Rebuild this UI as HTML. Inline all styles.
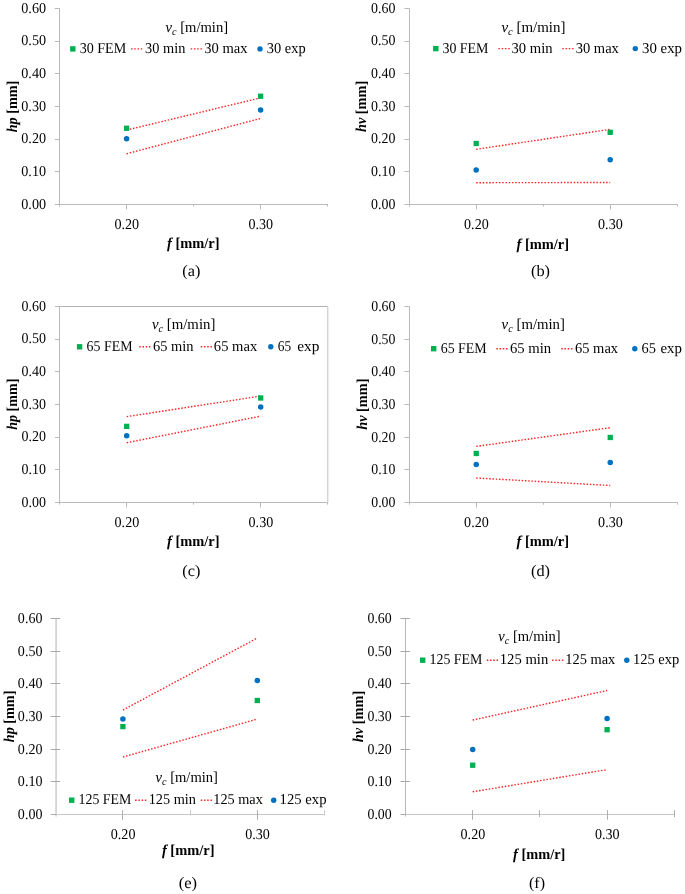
<!DOCTYPE html>
<html><head><meta charset="utf-8"><style>
html,body{margin:0;padding:0;background:#fff;}
svg{display:block;}
#w{will-change:transform;width:685px;height:894px;}
text{font-family:"Liberation Serif",serif;text-rendering:geometricPrecision;}
</style></head><body><div id="w">
<svg width="685" height="894" viewBox="0 0 685 894">
<rect width="685" height="894" fill="#fff"/>
<line x1="59.50" y1="8.32" x2="59.50" y2="206.60" stroke="#bababa" stroke-width="1"/>
<line x1="54.80" y1="204.50" x2="59.60" y2="204.50" stroke="#bababa" stroke-width="1"/>
<line x1="54.80" y1="171.50" x2="59.60" y2="171.50" stroke="#bababa" stroke-width="1"/>
<line x1="54.80" y1="139.50" x2="59.60" y2="139.50" stroke="#bababa" stroke-width="1"/>
<line x1="54.80" y1="106.50" x2="59.60" y2="106.50" stroke="#bababa" stroke-width="1"/>
<line x1="54.80" y1="73.50" x2="59.60" y2="73.50" stroke="#bababa" stroke-width="1"/>
<line x1="54.80" y1="41.50" x2="59.60" y2="41.50" stroke="#bababa" stroke-width="1"/>
<line x1="54.80" y1="8.50" x2="59.60" y2="8.50" stroke="#bababa" stroke-width="1"/>
<line x1="59.10" y1="204.50" x2="328.10" y2="204.50" stroke="#bababa" stroke-width="1"/>
<line x1="126.50" y1="204.40" x2="126.50" y2="209.40" stroke="#bababa" stroke-width="1"/>
<line x1="260.50" y1="204.40" x2="260.50" y2="209.40" stroke="#bababa" stroke-width="1"/>
<line x1="193.50" y1="204.40" x2="193.50" y2="206.60" stroke="#bababa" stroke-width="1"/>
<line x1="327.50" y1="204.40" x2="327.50" y2="206.60" stroke="#bababa" stroke-width="1"/>
<text transform="translate(21.26,208.80) scale(0.9439,1)" fill="#000"><tspan font-weight="normal" font-style="normal" font-size="15">0.00</tspan></text>
<text transform="translate(21.26,176.12) scale(0.9439,1)" fill="#000"><tspan font-weight="normal" font-style="normal" font-size="15">0.10</tspan></text>
<text transform="translate(21.26,143.44) scale(0.9439,1)" fill="#000"><tspan font-weight="normal" font-style="normal" font-size="15">0.20</tspan></text>
<text transform="translate(21.26,110.76) scale(0.9439,1)" fill="#000"><tspan font-weight="normal" font-style="normal" font-size="15">0.30</tspan></text>
<text transform="translate(21.26,78.08) scale(0.9439,1)" fill="#000"><tspan font-weight="normal" font-style="normal" font-size="15">0.40</tspan></text>
<text transform="translate(21.26,45.40) scale(0.9439,1)" fill="#000"><tspan font-weight="normal" font-style="normal" font-size="15">0.50</tspan></text>
<text transform="translate(21.26,12.72) scale(0.9439,1)" fill="#000"><tspan font-weight="normal" font-style="normal" font-size="15">0.60</tspan></text>
<text transform="translate(114.46,228.90) scale(0.9400,1)" fill="#000"><tspan font-weight="normal" font-style="normal" font-size="15">0.20</tspan></text>
<text transform="translate(248.46,228.90) scale(0.9400,1)" fill="#000"><tspan font-weight="normal" font-style="normal" font-size="15">0.30</tspan></text>
<text transform="translate(167.00,248.40) scale(0.9637,1)" fill="#000"><tspan font-weight="bold" font-style="italic" font-size="15">f</tspan><tspan font-weight="bold" font-style="normal" font-size="15"> [mm/r]</tspan></text>
<text transform="translate(16.90,132.28) rotate(-90) scale(0.9423,1)"><tspan font-weight="bold" font-style="italic" font-size="15">hp</tspan><tspan font-weight="bold" font-style="normal" font-size="15"> [mm]</tspan></text>
<text transform="translate(182.29,276.10) scale(1.0280,1)" fill="#000"><tspan font-weight="normal" font-style="normal" font-size="15.8">(a)</tspan></text>
<text transform="translate(165.50,32.00) scale(0.9744,1)" fill="#000"><tspan font-weight="normal" font-style="italic" font-size="15">v</tspan><tspan font-weight="normal" font-style="italic" font-size="10.5" dy="2.80">c</tspan><tspan font-weight="normal" font-style="normal" font-size="15" dy="-2.80"> [m/min]</tspan></text>
<rect x="70.10" y="46.20" width="5.4" height="5.4" fill="#00b050"/>
<text transform="translate(79.68,53.20) scale(0.9384,1)" fill="#000"><tspan font-weight="normal" font-style="normal" font-size="15">30 FEM</tspan></text>
<line x1="131.00" y1="48.90" x2="142.60" y2="48.90" stroke="#f22" stroke-width="1.4" stroke-dasharray="1.5 1.75"/>
<text transform="translate(145.11,53.20) scale(0.9553,1)" fill="#000"><tspan font-weight="normal" font-style="normal" font-size="15">30 min</tspan></text>
<line x1="190.70" y1="48.90" x2="202.30" y2="48.90" stroke="#f22" stroke-width="1.4" stroke-dasharray="1.5 1.75"/>
<text transform="translate(204.20,53.20) scale(0.9731,1)" fill="#000"><tspan font-weight="normal" font-style="normal" font-size="15">30 max</tspan></text>
<circle cx="260.00" cy="48.90" r="2.7" fill="#0070c0"/>
<text transform="translate(266.81,53.20) scale(0.9615,1)" fill="#000"><tspan font-weight="normal" font-style="normal" font-size="15">30 exp</tspan></text>
<line x1="126.60" y1="130.02" x2="260.60" y2="97.86" stroke="#f22" stroke-width="1.4" stroke-dasharray="1.5 1.75"/>
<line x1="126.60" y1="153.75" x2="260.60" y2="118.45" stroke="#f22" stroke-width="1.4" stroke-dasharray="1.5 1.75"/>
<rect x="123.95" y="125.61" width="5.3" height="5.3" fill="#00b050"/>
<circle cx="126.60" cy="138.71" r="2.75" fill="#0070c0"/>
<rect x="257.95" y="93.58" width="5.3" height="5.3" fill="#00b050"/>
<circle cx="260.60" cy="109.95" r="2.75" fill="#0070c0"/>
<line x1="409.50" y1="8.32" x2="409.50" y2="206.60" stroke="#bababa" stroke-width="1"/>
<line x1="404.40" y1="204.50" x2="409.20" y2="204.50" stroke="#bababa" stroke-width="1"/>
<line x1="404.40" y1="171.50" x2="409.20" y2="171.50" stroke="#bababa" stroke-width="1"/>
<line x1="404.40" y1="139.50" x2="409.20" y2="139.50" stroke="#bababa" stroke-width="1"/>
<line x1="404.40" y1="106.50" x2="409.20" y2="106.50" stroke="#bababa" stroke-width="1"/>
<line x1="404.40" y1="73.50" x2="409.20" y2="73.50" stroke="#bababa" stroke-width="1"/>
<line x1="404.40" y1="41.50" x2="409.20" y2="41.50" stroke="#bababa" stroke-width="1"/>
<line x1="404.40" y1="8.50" x2="409.20" y2="8.50" stroke="#bababa" stroke-width="1"/>
<line x1="408.70" y1="204.50" x2="677.70" y2="204.50" stroke="#bababa" stroke-width="1"/>
<line x1="476.50" y1="204.40" x2="476.50" y2="209.40" stroke="#bababa" stroke-width="1"/>
<line x1="610.50" y1="204.40" x2="610.50" y2="209.40" stroke="#bababa" stroke-width="1"/>
<line x1="543.50" y1="204.40" x2="543.50" y2="206.60" stroke="#bababa" stroke-width="1"/>
<line x1="677.50" y1="204.40" x2="677.50" y2="206.60" stroke="#bababa" stroke-width="1"/>
<text transform="translate(371.07,208.80) scale(0.9280,1)" fill="#000"><tspan font-weight="normal" font-style="normal" font-size="15">0.00</tspan></text>
<text transform="translate(371.07,176.12) scale(0.9280,1)" fill="#000"><tspan font-weight="normal" font-style="normal" font-size="15">0.10</tspan></text>
<text transform="translate(371.07,143.44) scale(0.9280,1)" fill="#000"><tspan font-weight="normal" font-style="normal" font-size="15">0.20</tspan></text>
<text transform="translate(371.07,110.76) scale(0.9280,1)" fill="#000"><tspan font-weight="normal" font-style="normal" font-size="15">0.30</tspan></text>
<text transform="translate(371.07,78.08) scale(0.9280,1)" fill="#000"><tspan font-weight="normal" font-style="normal" font-size="15">0.40</tspan></text>
<text transform="translate(371.07,45.40) scale(0.9280,1)" fill="#000"><tspan font-weight="normal" font-style="normal" font-size="15">0.50</tspan></text>
<text transform="translate(371.07,12.72) scale(0.9280,1)" fill="#000"><tspan font-weight="normal" font-style="normal" font-size="15">0.60</tspan></text>
<text transform="translate(464.06,228.90) scale(0.9400,1)" fill="#000"><tspan font-weight="normal" font-style="normal" font-size="15">0.20</tspan></text>
<text transform="translate(598.06,228.90) scale(0.9400,1)" fill="#000"><tspan font-weight="normal" font-style="normal" font-size="15">0.30</tspan></text>
<text transform="translate(516.60,248.70) scale(0.9619,1)" fill="#000"><tspan font-weight="bold" font-style="italic" font-size="15">f</tspan><tspan font-weight="bold" font-style="normal" font-size="15"> [mm/r]</tspan></text>
<text transform="translate(366.30,131.98) rotate(-90) scale(0.9518,1)"><tspan font-weight="bold" font-style="italic" font-size="15">hv</tspan><tspan font-weight="bold" font-style="normal" font-size="15"> [mm]</tspan></text>
<text transform="translate(530.98,276.10) scale(1.0332,1)" fill="#000"><tspan font-weight="normal" font-style="normal" font-size="15.8">(b)</tspan></text>
<text transform="translate(501.40,32.00) scale(0.9967,1)" fill="#000"><tspan font-weight="normal" font-style="italic" font-size="15">v</tspan><tspan font-weight="normal" font-style="italic" font-size="10.5" dy="2.80">c</tspan><tspan font-weight="normal" font-style="normal" font-size="15" dy="-2.80"> [m/min]</tspan></text>
<rect x="433.10" y="45.90" width="5.4" height="5.4" fill="#00b050"/>
<text transform="translate(442.43,53.20) scale(0.9291,1)" fill="#000"><tspan font-weight="normal" font-style="normal" font-size="15">30 FEM</tspan></text>
<line x1="498.40" y1="48.60" x2="510.00" y2="48.60" stroke="#f22" stroke-width="1.4" stroke-dasharray="1.5 1.75"/>
<text transform="translate(511.50,53.20) scale(0.9747,1)" fill="#000"><tspan font-weight="normal" font-style="normal" font-size="15">30 min</tspan></text>
<line x1="562.30" y1="48.60" x2="573.90" y2="48.60" stroke="#f22" stroke-width="1.4" stroke-dasharray="1.5 1.75"/>
<text transform="translate(575.70,53.20) scale(0.9685,1)" fill="#000"><tspan font-weight="normal" font-style="normal" font-size="15">30 max</tspan></text>
<circle cx="635.30" cy="48.60" r="2.7" fill="#0070c0"/>
<text transform="translate(641.99,53.20) scale(0.9897,1)" fill="#000"><tspan font-weight="normal" font-style="normal" font-size="15">30 exp</tspan></text>
<line x1="476.20" y1="149.30" x2="610.20" y2="129.30" stroke="#f22" stroke-width="1.4" stroke-dasharray="1.5 1.75"/>
<line x1="476.20" y1="182.70" x2="610.20" y2="182.50" stroke="#f22" stroke-width="1.4" stroke-dasharray="1.5 1.75"/>
<rect x="473.55" y="140.83" width="5.3" height="5.3" fill="#00b050"/>
<circle cx="476.20" cy="170.09" r="2.75" fill="#0070c0"/>
<rect x="607.55" y="129.66" width="5.3" height="5.3" fill="#00b050"/>
<circle cx="610.20" cy="159.69" r="2.75" fill="#0070c0"/>
<line x1="59.50" y1="306.32" x2="59.50" y2="504.60" stroke="#bababa" stroke-width="1"/>
<line x1="54.90" y1="502.50" x2="59.70" y2="502.50" stroke="#bababa" stroke-width="1"/>
<line x1="54.90" y1="469.50" x2="59.70" y2="469.50" stroke="#bababa" stroke-width="1"/>
<line x1="54.90" y1="437.50" x2="59.70" y2="437.50" stroke="#bababa" stroke-width="1"/>
<line x1="54.90" y1="404.50" x2="59.70" y2="404.50" stroke="#bababa" stroke-width="1"/>
<line x1="54.90" y1="371.50" x2="59.70" y2="371.50" stroke="#bababa" stroke-width="1"/>
<line x1="54.90" y1="339.50" x2="59.70" y2="339.50" stroke="#bababa" stroke-width="1"/>
<line x1="54.90" y1="306.50" x2="59.70" y2="306.50" stroke="#bababa" stroke-width="1"/>
<line x1="59.20" y1="502.50" x2="328.20" y2="502.50" stroke="#bababa" stroke-width="1"/>
<line x1="126.50" y1="502.40" x2="126.50" y2="507.40" stroke="#bababa" stroke-width="1"/>
<line x1="260.50" y1="502.40" x2="260.50" y2="507.40" stroke="#bababa" stroke-width="1"/>
<line x1="193.50" y1="502.40" x2="193.50" y2="504.60" stroke="#bababa" stroke-width="1"/>
<line x1="327.50" y1="502.40" x2="327.50" y2="504.60" stroke="#bababa" stroke-width="1"/>
<line x1="59.70" y1="306.50" x2="327.70" y2="306.50" stroke="#b0b0b0" stroke-width="1"/>
<line x1="327.70" y1="306.32" x2="327.70" y2="502.40" stroke="#d6d6d6" stroke-width="1.5"/>
<text transform="translate(21.57,506.80) scale(0.9320,1)" fill="#000"><tspan font-weight="normal" font-style="normal" font-size="15">0.00</tspan></text>
<text transform="translate(21.57,474.12) scale(0.9320,1)" fill="#000"><tspan font-weight="normal" font-style="normal" font-size="15">0.10</tspan></text>
<text transform="translate(21.57,441.44) scale(0.9320,1)" fill="#000"><tspan font-weight="normal" font-style="normal" font-size="15">0.20</tspan></text>
<text transform="translate(21.57,408.76) scale(0.9320,1)" fill="#000"><tspan font-weight="normal" font-style="normal" font-size="15">0.30</tspan></text>
<text transform="translate(21.57,376.08) scale(0.9320,1)" fill="#000"><tspan font-weight="normal" font-style="normal" font-size="15">0.40</tspan></text>
<text transform="translate(21.57,343.40) scale(0.9320,1)" fill="#000"><tspan font-weight="normal" font-style="normal" font-size="15">0.50</tspan></text>
<text transform="translate(21.57,310.72) scale(0.9320,1)" fill="#000"><tspan font-weight="normal" font-style="normal" font-size="15">0.60</tspan></text>
<text transform="translate(114.56,526.80) scale(0.9400,1)" fill="#000"><tspan font-weight="normal" font-style="normal" font-size="15">0.20</tspan></text>
<text transform="translate(248.56,526.80) scale(0.9400,1)" fill="#000"><tspan font-weight="normal" font-style="normal" font-size="15">0.30</tspan></text>
<text transform="translate(167.00,546.40) scale(0.9637,1)" fill="#000"><tspan font-weight="bold" font-style="italic" font-size="15">f</tspan><tspan font-weight="bold" font-style="normal" font-size="15"> [mm/r]</tspan></text>
<text transform="translate(17.00,429.77) rotate(-90) scale(0.9386,1)"><tspan font-weight="bold" font-style="italic" font-size="15">hp</tspan><tspan font-weight="bold" font-style="normal" font-size="15"> [mm]</tspan></text>
<text transform="translate(182.29,575.80) scale(1.0280,1)" fill="#000"><tspan font-weight="normal" font-style="normal" font-size="15.8">(c)</tspan></text>
<text transform="translate(151.90,328.80) scale(0.9871,1)" fill="#000"><tspan font-weight="normal" font-style="italic" font-size="15">v</tspan><tspan font-weight="normal" font-style="italic" font-size="10.5" dy="2.80">c</tspan><tspan font-weight="normal" font-style="normal" font-size="15" dy="-2.80"> [m/min]</tspan></text>
<rect x="76.90" y="344.10" width="5.4" height="5.4" fill="#00b050"/>
<text transform="translate(86.60,350.90) scale(0.9256,1)" fill="#000"><tspan font-weight="normal" font-style="normal" font-size="15">65 FEM</tspan></text>
<line x1="139.20" y1="346.80" x2="150.80" y2="346.80" stroke="#f22" stroke-width="1.4" stroke-dasharray="1.5 1.75"/>
<text transform="translate(152.98,350.90) scale(0.9633,1)" fill="#000"><tspan font-weight="normal" font-style="normal" font-size="15">65 min</tspan></text>
<line x1="200.70" y1="346.80" x2="212.30" y2="346.80" stroke="#f22" stroke-width="1.4" stroke-dasharray="1.5 1.75"/>
<text transform="translate(213.87,350.90) scale(0.9715,1)" fill="#000"><tspan font-weight="normal" font-style="normal" font-size="15">65 max</tspan></text>
<circle cx="270.80" cy="346.80" r="2.7" fill="#0070c0"/>
<text transform="translate(277.72,350.90) scale(0.8933,1)" fill="#000"><tspan font-weight="normal" font-style="normal" font-size="15">65</tspan></text>
<text transform="translate(297.30,350.90) scale(1.0202,1)" fill="#000"><tspan font-weight="normal" font-style="normal" font-size="15">exp</tspan></text>
<line x1="126.70" y1="416.65" x2="260.70" y2="396.06" stroke="#f22" stroke-width="1.4" stroke-dasharray="1.5 1.75"/>
<line x1="126.70" y1="442.73" x2="260.70" y2="416.12" stroke="#f22" stroke-width="1.4" stroke-dasharray="1.5 1.75"/>
<rect x="124.05" y="423.74" width="5.3" height="5.3" fill="#00b050"/>
<circle cx="126.70" cy="435.86" r="2.75" fill="#0070c0"/>
<rect x="258.05" y="395.34" width="5.3" height="5.3" fill="#00b050"/>
<circle cx="260.70" cy="407.01" r="2.75" fill="#0070c0"/>
<line x1="409.50" y1="306.42" x2="409.50" y2="504.70" stroke="#bababa" stroke-width="1"/>
<line x1="404.45" y1="502.50" x2="409.25" y2="502.50" stroke="#bababa" stroke-width="1"/>
<line x1="404.45" y1="469.50" x2="409.25" y2="469.50" stroke="#bababa" stroke-width="1"/>
<line x1="404.45" y1="437.50" x2="409.25" y2="437.50" stroke="#bababa" stroke-width="1"/>
<line x1="404.45" y1="404.50" x2="409.25" y2="404.50" stroke="#bababa" stroke-width="1"/>
<line x1="404.45" y1="371.50" x2="409.25" y2="371.50" stroke="#bababa" stroke-width="1"/>
<line x1="404.45" y1="339.50" x2="409.25" y2="339.50" stroke="#bababa" stroke-width="1"/>
<line x1="404.45" y1="306.50" x2="409.25" y2="306.50" stroke="#bababa" stroke-width="1"/>
<line x1="408.75" y1="502.50" x2="677.75" y2="502.50" stroke="#bababa" stroke-width="1"/>
<line x1="476.50" y1="502.50" x2="476.50" y2="507.50" stroke="#bababa" stroke-width="1"/>
<line x1="610.50" y1="502.50" x2="610.50" y2="507.50" stroke="#bababa" stroke-width="1"/>
<line x1="543.50" y1="502.50" x2="543.50" y2="504.70" stroke="#bababa" stroke-width="1"/>
<line x1="677.50" y1="502.50" x2="677.50" y2="504.70" stroke="#bababa" stroke-width="1"/>
<text transform="translate(371.22,506.90) scale(0.9220,1)" fill="#000"><tspan font-weight="normal" font-style="normal" font-size="15">0.00</tspan></text>
<text transform="translate(371.22,474.22) scale(0.9220,1)" fill="#000"><tspan font-weight="normal" font-style="normal" font-size="15">0.10</tspan></text>
<text transform="translate(371.22,441.54) scale(0.9220,1)" fill="#000"><tspan font-weight="normal" font-style="normal" font-size="15">0.20</tspan></text>
<text transform="translate(371.22,408.86) scale(0.9220,1)" fill="#000"><tspan font-weight="normal" font-style="normal" font-size="15">0.30</tspan></text>
<text transform="translate(371.22,376.18) scale(0.9220,1)" fill="#000"><tspan font-weight="normal" font-style="normal" font-size="15">0.40</tspan></text>
<text transform="translate(371.22,343.50) scale(0.9220,1)" fill="#000"><tspan font-weight="normal" font-style="normal" font-size="15">0.50</tspan></text>
<text transform="translate(371.22,310.82) scale(0.9220,1)" fill="#000"><tspan font-weight="normal" font-style="normal" font-size="15">0.60</tspan></text>
<text transform="translate(464.11,526.90) scale(0.9400,1)" fill="#000"><tspan font-weight="normal" font-style="normal" font-size="15">0.20</tspan></text>
<text transform="translate(598.11,526.90) scale(0.9400,1)" fill="#000"><tspan font-weight="normal" font-style="normal" font-size="15">0.30</tspan></text>
<text transform="translate(516.60,546.40) scale(0.9619,1)" fill="#000"><tspan font-weight="bold" font-style="italic" font-size="15">f</tspan><tspan font-weight="bold" font-style="normal" font-size="15"> [mm/r]</tspan></text>
<text transform="translate(366.80,429.78) rotate(-90) scale(0.9537,1)"><tspan font-weight="bold" font-style="italic" font-size="15">hv</tspan><tspan font-weight="bold" font-style="normal" font-size="15"> [mm]</tspan></text>
<text transform="translate(530.98,575.80) scale(1.0332,1)" fill="#000"><tspan font-weight="normal" font-style="normal" font-size="15.8">(d)</tspan></text>
<text transform="translate(501.60,328.80) scale(0.9855,1)" fill="#000"><tspan font-weight="normal" font-style="italic" font-size="15">v</tspan><tspan font-weight="normal" font-style="italic" font-size="10.5" dy="2.80">c</tspan><tspan font-weight="normal" font-style="normal" font-size="15" dy="-2.80"> [m/min]</tspan></text>
<rect x="431.00" y="346.00" width="5.4" height="5.4" fill="#00b050"/>
<text transform="translate(440.70,352.70) scale(0.9277,1)" fill="#000"><tspan font-weight="normal" font-style="normal" font-size="15">65 FEM</tspan></text>
<line x1="496.30" y1="348.70" x2="507.90" y2="348.70" stroke="#f22" stroke-width="1.4" stroke-dasharray="1.5 1.75"/>
<text transform="translate(509.97,352.70) scale(0.9803,1)" fill="#000"><tspan font-weight="normal" font-style="normal" font-size="15">65 min</tspan></text>
<line x1="561.20" y1="348.70" x2="572.80" y2="348.70" stroke="#f22" stroke-width="1.4" stroke-dasharray="1.5 1.75"/>
<text transform="translate(574.98,352.70) scale(0.9669,1)" fill="#000"><tspan font-weight="normal" font-style="normal" font-size="15">65 max</tspan></text>
<circle cx="634.80" cy="348.70" r="2.7" fill="#0070c0"/>
<text transform="translate(641.58,352.70) scale(0.9586,1)" fill="#000"><tspan font-weight="normal" font-style="normal" font-size="15">65</tspan></text>
<text transform="translate(660.52,352.70) scale(0.9909,1)" fill="#000"><tspan font-weight="normal" font-style="normal" font-size="15">exp</tspan></text>
<line x1="476.25" y1="446.39" x2="610.25" y2="427.66" stroke="#f22" stroke-width="1.4" stroke-dasharray="1.5 1.75"/>
<line x1="476.25" y1="477.99" x2="610.25" y2="485.51" stroke="#f22" stroke-width="1.4" stroke-dasharray="1.5 1.75"/>
<rect x="473.60" y="450.83" width="5.3" height="5.3" fill="#00b050"/>
<circle cx="476.25" cy="464.56" r="2.75" fill="#0070c0"/>
<rect x="607.60" y="434.82" width="5.3" height="5.3" fill="#00b050"/>
<circle cx="610.25" cy="462.50" r="2.75" fill="#0070c0"/>
<line x1="56.10" y1="618.42" x2="56.10" y2="816.50" stroke="#d4d4d4" stroke-width="1.8"/>
<line x1="50.70" y1="814.50" x2="60.20" y2="814.50" stroke="#a8a8a8" stroke-width="1"/>
<line x1="50.70" y1="781.50" x2="60.20" y2="781.50" stroke="#a8a8a8" stroke-width="1"/>
<line x1="50.70" y1="749.50" x2="60.20" y2="749.50" stroke="#a8a8a8" stroke-width="1"/>
<line x1="50.70" y1="716.50" x2="60.20" y2="716.50" stroke="#a8a8a8" stroke-width="1"/>
<line x1="50.70" y1="683.50" x2="60.20" y2="683.50" stroke="#a8a8a8" stroke-width="1"/>
<line x1="50.70" y1="651.50" x2="60.20" y2="651.50" stroke="#a8a8a8" stroke-width="1"/>
<line x1="50.70" y1="618.50" x2="60.20" y2="618.50" stroke="#a8a8a8" stroke-width="1"/>
<line x1="55.70" y1="814.50" x2="324.50" y2="814.50" stroke="#c6c6c6" stroke-width="1"/>
<line x1="122.50" y1="810.20" x2="122.50" y2="819.70" stroke="#acacac" stroke-width="1"/>
<line x1="257.50" y1="810.20" x2="257.50" y2="819.70" stroke="#acacac" stroke-width="1"/>
<line x1="190.50" y1="810.20" x2="190.50" y2="815.50" stroke="#c8c8c8" stroke-width="1"/>
<line x1="324.50" y1="810.20" x2="324.50" y2="815.50" stroke="#c8c8c8" stroke-width="1"/>
<text transform="translate(17.87,818.90) scale(0.9360,1)" fill="#000"><tspan font-weight="normal" font-style="normal" font-size="15">0.00</tspan></text>
<text transform="translate(17.87,786.22) scale(0.9360,1)" fill="#000"><tspan font-weight="normal" font-style="normal" font-size="15">0.10</tspan></text>
<text transform="translate(17.87,753.54) scale(0.9360,1)" fill="#000"><tspan font-weight="normal" font-style="normal" font-size="15">0.20</tspan></text>
<text transform="translate(17.87,720.86) scale(0.9360,1)" fill="#000"><tspan font-weight="normal" font-style="normal" font-size="15">0.30</tspan></text>
<text transform="translate(17.87,688.18) scale(0.9360,1)" fill="#000"><tspan font-weight="normal" font-style="normal" font-size="15">0.40</tspan></text>
<text transform="translate(17.87,655.50) scale(0.9360,1)" fill="#000"><tspan font-weight="normal" font-style="normal" font-size="15">0.50</tspan></text>
<text transform="translate(17.87,622.82) scale(0.9360,1)" fill="#000"><tspan font-weight="normal" font-style="normal" font-size="15">0.60</tspan></text>
<text transform="translate(110.76,839.00) scale(0.9400,1)" fill="#000"><tspan font-weight="normal" font-style="normal" font-size="15">0.20</tspan></text>
<text transform="translate(245.16,839.00) scale(0.9400,1)" fill="#000"><tspan font-weight="normal" font-style="normal" font-size="15">0.30</tspan></text>
<text transform="translate(161.90,854.80) scale(0.9656,1)" fill="#000"><tspan font-weight="bold" font-style="italic" font-size="15">f</tspan><tspan font-weight="bold" font-style="normal" font-size="15"> [mm/r]</tspan></text>
<text transform="translate(13.60,742.18) rotate(-90) scale(0.9442,1)"><tspan font-weight="bold" font-style="italic" font-size="15">hp</tspan><tspan font-weight="bold" font-style="normal" font-size="15"> [mm]</tspan></text>
<text transform="translate(178.77,888.00) scale(1.0466,1)" fill="#000"><tspan font-weight="normal" font-style="normal" font-size="15.8">(e)</tspan></text>
<text transform="translate(155.50,782.10) scale(0.9712,1)" fill="#000"><tspan font-weight="normal" font-style="italic" font-size="15">v</tspan><tspan font-weight="normal" font-style="italic" font-size="10.5" dy="2.80">c</tspan><tspan font-weight="normal" font-style="normal" font-size="15" dy="-2.80"> [m/min]</tspan></text>
<rect x="69.00" y="797.50" width="5.4" height="5.4" fill="#00b050"/>
<text transform="translate(78.58,804.00) scale(0.9235,1)" fill="#000"><tspan font-weight="normal" font-style="normal" font-size="15">125 FEM</tspan></text>
<line x1="135.10" y1="800.20" x2="146.70" y2="800.20" stroke="#f22" stroke-width="1.4" stroke-dasharray="1.5 1.75"/>
<text transform="translate(148.64,804.00) scale(0.9534,1)" fill="#000"><tspan font-weight="normal" font-style="normal" font-size="15">125 min</tspan></text>
<line x1="200.70" y1="800.20" x2="212.30" y2="800.20" stroke="#f22" stroke-width="1.4" stroke-dasharray="1.5 1.75"/>
<text transform="translate(213.25,804.00) scale(0.9511,1)" fill="#000"><tspan font-weight="normal" font-style="normal" font-size="15">125 max</tspan></text>
<circle cx="273.70" cy="800.20" r="2.7" fill="#0070c0"/>
<text transform="translate(279.61,804.00) scale(0.9782,1)" fill="#000"><tspan font-weight="normal" font-style="normal" font-size="15">125 exp</tspan></text>
<line x1="122.90" y1="710.02" x2="257.30" y2="638.03" stroke="#f22" stroke-width="1.4" stroke-dasharray="1.5 1.75"/>
<line x1="122.90" y1="757.02" x2="257.30" y2="719.07" stroke="#f22" stroke-width="1.4" stroke-dasharray="1.5 1.75"/>
<rect x="120.25" y="723.94" width="5.3" height="5.3" fill="#00b050"/>
<circle cx="122.90" cy="718.91" r="2.75" fill="#0070c0"/>
<rect x="254.65" y="697.86" width="5.3" height="5.3" fill="#00b050"/>
<circle cx="257.30" cy="680.61" r="2.75" fill="#0070c0"/>
<line x1="405.50" y1="618.42" x2="405.50" y2="816.50" stroke="#b8b8b8" stroke-width="1"/>
<line x1="400.50" y1="814.50" x2="410.00" y2="814.50" stroke="#a8a8a8" stroke-width="1"/>
<line x1="400.50" y1="781.50" x2="410.00" y2="781.50" stroke="#a8a8a8" stroke-width="1"/>
<line x1="400.50" y1="749.50" x2="410.00" y2="749.50" stroke="#a8a8a8" stroke-width="1"/>
<line x1="400.50" y1="716.50" x2="410.00" y2="716.50" stroke="#a8a8a8" stroke-width="1"/>
<line x1="400.50" y1="683.50" x2="410.00" y2="683.50" stroke="#a8a8a8" stroke-width="1"/>
<line x1="400.50" y1="651.50" x2="410.00" y2="651.50" stroke="#a8a8a8" stroke-width="1"/>
<line x1="400.50" y1="618.50" x2="410.00" y2="618.50" stroke="#a8a8a8" stroke-width="1"/>
<line x1="405.50" y1="814.50" x2="674.30" y2="814.50" stroke="#c6c6c6" stroke-width="1"/>
<line x1="472.50" y1="810.20" x2="472.50" y2="819.70" stroke="#acacac" stroke-width="1"/>
<line x1="607.50" y1="810.20" x2="607.50" y2="819.70" stroke="#acacac" stroke-width="1"/>
<line x1="539.50" y1="810.20" x2="539.50" y2="817.00" stroke="#acacac" stroke-width="1"/>
<line x1="674.50" y1="810.20" x2="674.50" y2="817.00" stroke="#acacac" stroke-width="1"/>
<text transform="translate(367.47,818.90) scale(0.9240,1)" fill="#000"><tspan font-weight="normal" font-style="normal" font-size="15">0.00</tspan></text>
<text transform="translate(367.47,786.22) scale(0.9240,1)" fill="#000"><tspan font-weight="normal" font-style="normal" font-size="15">0.10</tspan></text>
<text transform="translate(367.47,753.54) scale(0.9240,1)" fill="#000"><tspan font-weight="normal" font-style="normal" font-size="15">0.20</tspan></text>
<text transform="translate(367.47,720.86) scale(0.9240,1)" fill="#000"><tspan font-weight="normal" font-style="normal" font-size="15">0.30</tspan></text>
<text transform="translate(367.47,688.18) scale(0.9240,1)" fill="#000"><tspan font-weight="normal" font-style="normal" font-size="15">0.40</tspan></text>
<text transform="translate(367.47,655.50) scale(0.9240,1)" fill="#000"><tspan font-weight="normal" font-style="normal" font-size="15">0.50</tspan></text>
<text transform="translate(367.47,622.82) scale(0.9240,1)" fill="#000"><tspan font-weight="normal" font-style="normal" font-size="15">0.60</tspan></text>
<text transform="translate(460.56,839.00) scale(0.9400,1)" fill="#000"><tspan font-weight="normal" font-style="normal" font-size="15">0.20</tspan></text>
<text transform="translate(594.96,839.00) scale(0.9400,1)" fill="#000"><tspan font-weight="normal" font-style="normal" font-size="15">0.30</tspan></text>
<text transform="translate(513.00,858.70) scale(0.9600,1)" fill="#000"><tspan font-weight="bold" font-style="italic" font-size="15">f</tspan><tspan font-weight="bold" font-style="normal" font-size="15"> [mm/r]</tspan></text>
<text transform="translate(362.90,742.18) rotate(-90) scale(0.9594,1)"><tspan font-weight="bold" font-style="italic" font-size="15">hv</tspan><tspan font-weight="bold" font-style="normal" font-size="15"> [mm]</tspan></text>
<text transform="translate(529.00,887.80) scale(1.0142,1)" fill="#000"><tspan font-weight="normal" font-style="normal" font-size="15.8">(f)</tspan></text>
<text transform="translate(498.30,640.70) scale(0.9696,1)" fill="#000"><tspan font-weight="normal" font-style="italic" font-size="15">v</tspan><tspan font-weight="normal" font-style="italic" font-size="10.5" dy="2.80">c</tspan><tspan font-weight="normal" font-style="normal" font-size="15" dy="-2.80"> [m/min]</tspan></text>
<rect x="420.00" y="657.50" width="5.4" height="5.4" fill="#00b050"/>
<text transform="translate(429.58,664.00) scale(0.9235,1)" fill="#000"><tspan font-weight="normal" font-style="normal" font-size="15">125 FEM</tspan></text>
<line x1="486.80" y1="660.20" x2="498.40" y2="660.20" stroke="#f22" stroke-width="1.4" stroke-dasharray="1.5 1.75"/>
<text transform="translate(499.71,664.00) scale(0.9784,1)" fill="#000"><tspan font-weight="normal" font-style="normal" font-size="15">125 min</tspan></text>
<line x1="552.10" y1="660.20" x2="563.70" y2="660.20" stroke="#f22" stroke-width="1.4" stroke-dasharray="1.5 1.75"/>
<text transform="translate(565.23,664.00) scale(0.9610,1)" fill="#000"><tspan font-weight="normal" font-style="normal" font-size="15">125 max</tspan></text>
<circle cx="626.80" cy="660.20" r="2.7" fill="#0070c0"/>
<text transform="translate(632.92,664.00) scale(0.9673,1)" fill="#000"><tspan font-weight="normal" font-style="normal" font-size="15">125 exp</tspan></text>
<line x1="472.70" y1="720.05" x2="607.10" y2="690.51" stroke="#f22" stroke-width="1.4" stroke-dasharray="1.5 1.75"/>
<line x1="472.70" y1="791.79" x2="607.10" y2="769.60" stroke="#f22" stroke-width="1.4" stroke-dasharray="1.5 1.75"/>
<rect x="470.05" y="762.57" width="5.3" height="5.3" fill="#00b050"/>
<circle cx="472.70" cy="749.40" r="2.75" fill="#0070c0"/>
<rect x="604.45" y="727.05" width="5.3" height="5.3" fill="#00b050"/>
<circle cx="607.10" cy="718.52" r="2.75" fill="#0070c0"/>
</svg></div></body></html>
